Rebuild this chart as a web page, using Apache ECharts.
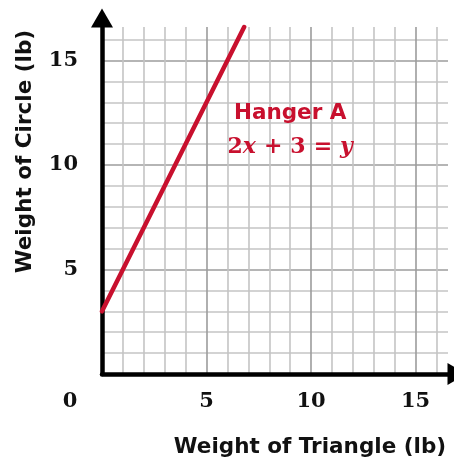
<!DOCTYPE html>
<html>
<head>
<meta charset="utf-8">
<style>
  html, body { margin: 0; padding: 0; background: #ffffff; }
  #chart { width: 454px; height: 463px; }
</style>
<script src="https://cdn.jsdelivr.net/npm/echarts@6/dist/echarts.min.js"></script>
</head>
<body>
<div id="chart"></div>
<script>
// Hanger A: weight of circle as a function of weight of triangle
const lineX = [0, 6.8];
const lineY = [3, 16.6];

// Axis ranges and labelled ticks
const xMax = 16.55;
const yMax = 16.6;
const xTickLabels = [0, 5, 10, 15];
const yTickLabels = [5, 10, 15];

// Texts
const xTitle = 'Weight of Triangle (lb)';
const yTitle = 'Weight of Circle (lb)';
const hangerName = 'Hanger A';
const labelAnchor = [9, 11.65];

const RED = '#c8102e';
const SERIF = '"DejaVu Serif", "Liberation Serif", serif';
const SANS = '"DejaVu Sans", Inter, sans-serif';

const minorGrid = '#c4c4c4';
const majorGrid = '#9c9c9c';
const gridColors = [majorGrid, minorGrid, minorGrid, minorGrid, minorGrid];

const chart = echarts.init(document.getElementById('chart'), null, { renderer: 'canvas' });

const axisLineStyle = { color: '#000000', width: 4.5 };

// Shared style for the annotation text pieces
const noHalo = { textBorderWidth: 0, textBorderColor: 'transparent', textShadowBlur: 0 };

chart.setOption({
  animation: false,
  backgroundColor: '#ffffff',
  grid: { left: 102, right: 6, top: 27, bottom: 88 },
  xAxis: {
    type: 'value',
    min: 0,
    max: xMax,
    interval: 1,
    name: xTitle,
    nameLocation: 'middle',
    nameGap: 62,
    nameTextStyle: {
      fontFamily: SANS, fontWeight: 'bold', fontSize: 21.5, color: '#111111',
      padding: [0, 0, 0, 70]
    },
    axisLine: {
      onZero: false,
      lineStyle: axisLineStyle,
      symbol: ['none', 'triangle'],
      symbolSize: [22, 19],
      symbolOffset: [0, 9]
    },
    axisTick: { show: false },
    axisLabel: {
      margin: 17,
      fontFamily: SERIF, fontWeight: 'bold', fontSize: 21, color: '#111111',
      showMaxLabel: false,
      formatter: function (v) {
        if (!xTickLabels.includes(v)) return '';
        return v === 0 ? '{z|0}' : String(v);
      },
      rich: {
        z: {
          fontFamily: SERIF, fontWeight: 'bold', fontSize: 21, color: '#111111',
          padding: [0, 64, 0, 0]
        }
      }
    },
    splitLine: {
      show: true,
      showMaxLine: false,
      lineStyle: { color: gridColors, width: 1.6 }
    }
  },
  yAxis: {
    type: 'value',
    min: 0,
    max: yMax,
    interval: 1,
    name: yTitle,
    nameLocation: 'middle',
    nameRotate: 90,
    nameGap: 66,
    nameTextStyle: {
      fontFamily: SANS, fontWeight: 'bold', fontSize: 21.5, color: '#111111',
      padding: [0, 0, 0, 98]
    },
    axisLine: {
      onZero: false,
      lineStyle: axisLineStyle,
      symbol: ['none', 'triangle'],
      symbolSize: [22, 19],
      symbolOffset: [0, 9]
    },
    axisTick: { show: false },
    axisLabel: {
      margin: 24,
      fontFamily: SERIF, fontWeight: 'bold', fontSize: 21, color: '#111111',
      showMaxLabel: false,
      formatter: function (v) {
        return yTickLabels.includes(v) ? String(v) : '';
      }
    },
    splitLine: {
      show: true,
      showMaxLine: false,
      lineStyle: { color: gridColors, width: 1.6 }
    }
  },
  series: [
    {
      type: 'line',
      data: lineX.map((x, i) => [x, lineY[i]]),
      symbol: 'none',
      clip: false,
      lineStyle: { color: RED, width: 4.5, cap: 'round' },
      z: 3
    },
    {
      type: 'scatter',
      data: [labelAnchor],
      symbolSize: 0,
      silent: true,
      itemStyle: { color: RED, opacity: 1 },
      z: 4,
      label: Object.assign({
        show: true,
        position: 'inside',
        color: RED,
        opacity: 1,
        formatter: '{t|' + hangerName + '}\n{n|2}{v|x}{o|+}{n|3}{o|=}{v|y}',
        rich: {
          t: Object.assign({ fontFamily: SANS, fontWeight: 'bold', fontSize: 21.5, color: RED, lineHeight: 34, align: 'center' }, noHalo),
          n: Object.assign({ fontFamily: SERIF, fontWeight: 'bold', fontSize: 22, color: RED, lineHeight: 34 }, noHalo),
          v: Object.assign({ fontFamily: SERIF, fontWeight: 'bold', fontStyle: 'italic', fontSize: 22, color: RED, lineHeight: 34 }, noHalo),
          o: Object.assign({ fontFamily: SERIF, fontWeight: 'bold', fontSize: 22, color: RED, lineHeight: 34, padding: [0, 8, 0, 8] }, noHalo)
        }
      }, noHalo)
    }
  ]
});
</script>
</body>
</html>
